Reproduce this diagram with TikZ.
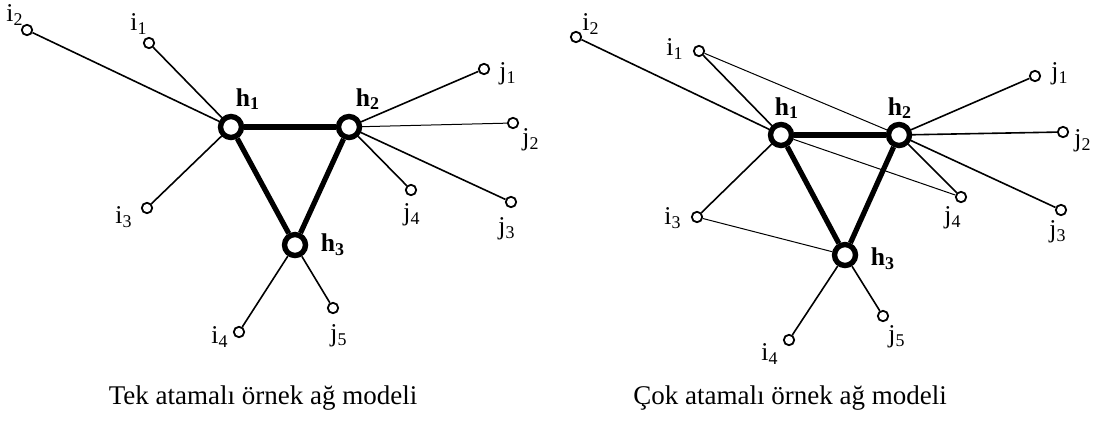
\documentclass[tikz,border=0pt]{standalone}
\usepackage{fontspec}
\setmainfont{Liberation Serif}
\begin{document}
\begin{tikzpicture}[x=0.5pt,y=-0.5pt,
  hub/.style={circle,draw,fill=white,line width=2.7pt,minimum size=10.5pt,inner sep=0pt},
  leaf/.style={circle,draw,fill=white,line width=0.9pt,minimum size=5.2pt,inner sep=0pt},
  lbl/.style={font=\fontsize{12.8}{15}\selectfont,inner sep=0pt},
  hlbl/.style={font=\fontsize{12.8}{15}\selectfont\bfseries,inner sep=0pt},
  captext/.style={font=\fontsize{13.5}{16}\selectfont,inner sep=0pt},
  trunk/.style={line width=2.6pt},
  spoke/.style={line width=0.8pt},
  extra/.style={line width=0.5pt}]
\useasboundingbox (0,0) rectangle (1101,428);

% ---------- left diagram ----------
\node[hub] (Lh1) at (231,127) {};
\node[hub] (Lh2) at (349,127) {};
\node[hub] (Lh3) at (295,245) {};
\node[leaf] (Li2) at (27,30) {};
\node[leaf] (Li1) at (149,43) {};
\node[leaf] (Li3) at (147,208) {};
\node[leaf] (Li4) at (239,332) {};
\node[leaf] (Lj5) at (333,308) {};
\node[leaf] (Lj1) at (484,69) {};
\node[leaf] (Lj2) at (513,123) {};
\node[leaf] (Lj3) at (511,202) {};
\node[leaf] (Lj4) at (411,190) {};

\draw[trunk] (Lh1) -- (Lh2);
\draw[trunk] (Lh1) -- (Lh3);
\draw[trunk] (Lh2) -- (Lh3);
\draw[spoke] (Lh1) -- (Li2);
\draw[spoke] (Lh1) -- (Li1);
\draw[spoke] (Lh1) -- (Li3);
\draw[spoke] (Lh3) -- (Li4);
\draw[spoke] (Lh3) -- (Lj5);
\draw[spoke] (Lh2) -- (Lj1);
\draw[extra] (Lh2) -- (Lj2);
\draw[spoke] (Lh2) -- (Lj3);
\draw[spoke] (Lh2) -- (Lj4);

\node[lbl] (Lti2) at (15,15) {i\textsubscript{2}};
\node[lbl] (Lti1) at (139,24) {i\textsubscript{1}};
\node[lbl] (Lti3) at (124,217) {i\textsubscript{3}};
\node[lbl] (Lti4) at (220,337) {i\textsubscript{4}};
\node[lbl] (Ltj5) at (339,336) {j\textsubscript{5}};
\node[lbl] (Ltj4) at (412,215) {j\textsubscript{4}};
\node[lbl] (Ltj1) at (508,74) {j\textsubscript{1}};
\node[lbl] (Ltj2) at (531,140) {j\textsubscript{2}};
\node[lbl] (Ltj3) at (507,229) {j\textsubscript{3}};
\node[hlbl] (Lth1) at (248,99) {h\textsubscript{1}};
\node[hlbl] (Lth2) at (368,99) {h\textsubscript{2}};
\node[hlbl] (Lth3) at (333,245) {h\textsubscript{3}};

\node[captext] (Lcap) at (263,398) {Tek atamalı örnek ağ modeli};

% ---------- right diagram ----------
\node[hub] (Rh1) at (781,135) {};
\node[hub] (Rh2) at (899,135) {};
\node[hub] (Rh3) at (845,255) {};
\node[leaf] (Ri2) at (576,37) {};
\node[leaf] (Ri1) at (699,51) {};
\node[leaf] (Ri3) at (697,217) {};
\node[leaf] (Ri4) at (789,340) {};
\node[leaf] (Rj5) at (883,316) {};
\node[leaf] (Rj1) at (1035,76) {};
\node[leaf] (Rj2) at (1063,132) {};
\node[leaf] (Rj3) at (1061,210) {};
\node[leaf] (Rj4) at (961,197) {};

\draw[trunk] (Rh1) -- (Rh2);
\draw[trunk] (Rh1) -- (Rh3);
\draw[trunk] (Rh2) -- (Rh3);
\draw[spoke] (Rh1) -- (Ri2);
\draw[spoke] (Rh1) -- (Ri1);
\draw[spoke] (Rh1) -- (Ri3);
\draw[spoke] (Rh3) -- (Ri4);
\draw[spoke] (Rh3) -- (Rj5);
\draw[spoke] (Rh2) -- (Rj1);
\draw[spoke] (Rh2) -- (Rj2);
\draw[spoke] (Rh2) -- (Rj3);
\draw[spoke] (Rh2) -- (Rj4);
\draw[extra] (Ri1) -- (Rh2);
\draw[extra] (Rh1) -- (Rj4);
\draw[extra] (Ri3) -- (Rh3);

\node[lbl] (Rti2) at (591,24) {i\textsubscript{2}};
\node[lbl] (Rti1) at (675,49) {i\textsubscript{1}};
\node[lbl] (Rti3) at (673,218) {i\textsubscript{3}};
\node[lbl] (Rti4) at (770,354) {i\textsubscript{4}};
\node[lbl] (Rtj5) at (897,337) {j\textsubscript{5}};
\node[lbl] (Rtj4) at (953,218) {j\textsubscript{4}};
\node[lbl] (Rtj1) at (1060,74) {j\textsubscript{1}};
\node[lbl] (Rtj2) at (1083,141) {j\textsubscript{2}};
\node[lbl] (Rtj3) at (1058,232) {j\textsubscript{3}};
\node[hlbl] (Rth1) at (787,108) {h\textsubscript{1}};
\node[hlbl] (Rth2) at (900,108) {h\textsubscript{2}};
\node[hlbl] (Rth3) at (883,259) {h\textsubscript{3}};

\node[captext] (Rcap) at (790,398) {Çok atamalı örnek ağ modeli};
\end{tikzpicture}
\end{document}
